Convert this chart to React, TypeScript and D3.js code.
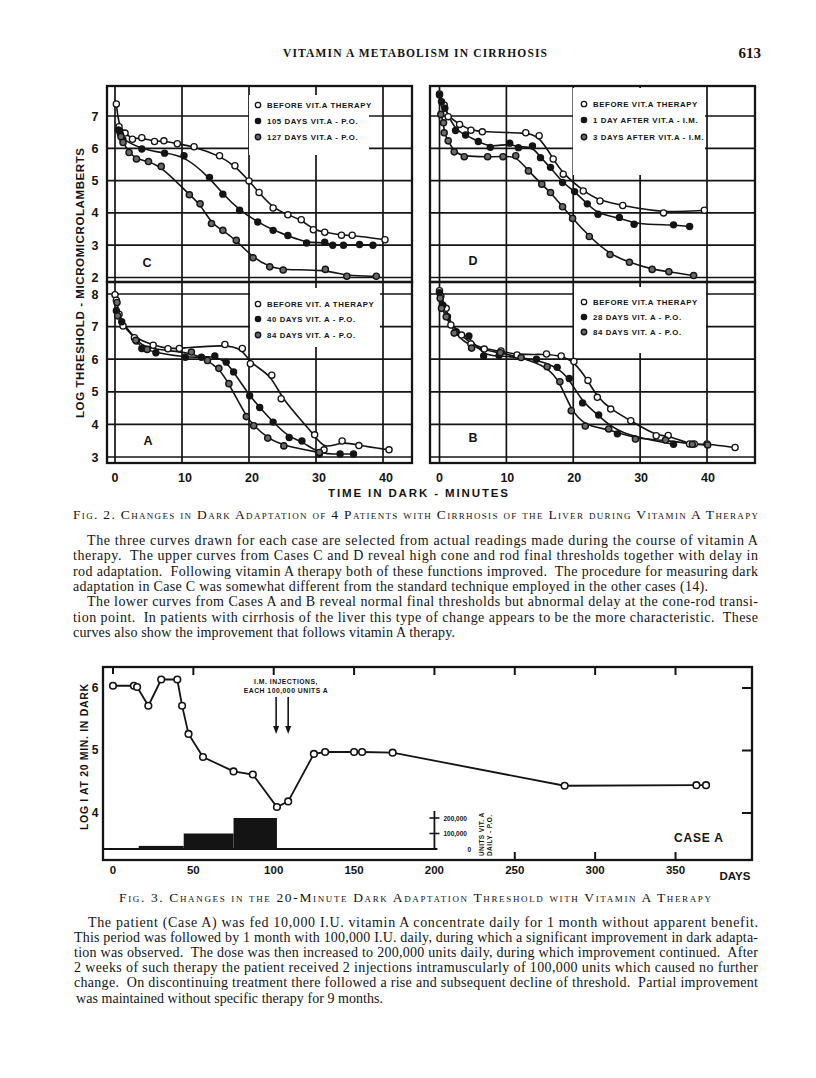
import React from "react";
import * as d3 from "d3";

// ---------- Fig. 2 : log threshold vs minutes in dark ----------
const minuteTicks = [0, 10, 20, 30, 40];
const upperLogTicks = [2, 3, 4, 5, 6, 7];
const lowerLogTicks = [3, 4, 5, 6, 7, 8];

const caseCBefore = [[0.2, 7.37], [0.6, 6.67], [1.5, 6.47], [2.6, 6.28], [4.0, 6.33], [5.9, 6.21], [7.3, 6.23], [9.3, 6.14], [11.8, 6.05], [15.6, 5.77], [17.9, 5.46], [20, 4.99], [21.5, 4.63], [23.6, 4.15], [25.8, 3.94], [27.8, 3.79], [29.6, 3.48], [31.3, 3.4], [33.8, 3.31], [35.4, 3.31], [40.3, 3.17]];
const caseC105 = [[0.5, 6.57], [0.8, 6.44], [1.2, 6.26], [4.0, 5.98], [7.4, 5.85], [10.3, 5.77], [14.1, 5.1], [16.1, 4.58], [18.6, 4.08], [21.3, 3.72], [23.6, 3.46], [25.8, 3.3], [28.6, 3.07], [31.3, 3.09], [32.5, 3.0], [34.1, 3.0], [36.5, 3.02], [38.5, 3.0]];
const caseC127 = [[0.9, 6.36], [1.2, 6.18], [2.1, 5.87], [3.2, 5.67], [5.0, 5.59], [6.9, 5.44], [11.1, 4.56], [12.7, 4.28], [14.4, 3.67], [16.1, 3.46], [18.1, 3.15], [20.6, 2.61], [23.1, 2.33], [25.1, 2.23], [31.4, 2.25], [34.6, 2.04], [39.0, 2.04]];

const caseDBefore = [[0, 7.68], [0.7, 7.34], [1.3, 6.98], [3.0, 6.74], [4.7, 6.56], [6.4, 6.51], [12.9, 6.48], [14.9, 6.39], [17.0, 5.67], [18.5, 5.2], [21.5, 4.68], [24.0, 4.37], [27.4, 4.23], [33.5, 4.0], [39.6, 4.08]];
const caseD1Day = [[0, 7.65], [0.3, 7.44], [0.8, 7.24], [2.4, 6.55], [3.9, 6.41], [5.8, 6.21], [7.6, 6.03], [10.5, 6.16], [11.8, 6.02], [13.9, 6.07], [15.1, 5.71], [16.6, 5.41], [18.4, 4.94], [20.2, 4.66], [22.1, 4.28], [23.7, 3.96], [26.9, 3.86], [29.1, 3.65], [35.0, 3.63], [37.4, 3.58]];
const caseD3Days = [[0.2, 7.05], [0.6, 6.79], [0.7, 6.48], [1.3, 6.23], [2.2, 5.89], [3.7, 5.74], [7.2, 5.74], [9.5, 5.74], [11.4, 5.77], [13.3, 5.3], [15.3, 4.89], [16.6, 4.63], [18.4, 4.19], [19.9, 3.83], [22.4, 3.27], [25.5, 2.71], [28.4, 2.47], [31.8, 2.25], [34.3, 2.18], [38.0, 2.06]];

const caseABefore = [[0, 7.98], [0.2, 7.81], [0.6, 7.38], [1.2, 7.02], [2.9, 6.66], [5.7, 6.43], [7.9, 6.32], [9.6, 6.33], [16.4, 6.45], [19.0, 6.33], [20.2, 5.86], [23.4, 5.51], [24.8, 4.79], [29.8, 3.68], [31.2, 3.22], [33.9, 3.49], [36.4, 3.35], [40.9, 3.22]];
const caseA40 = [[0.2, 7.49], [1.0, 7.15], [3.2, 6.56], [4.0, 6.33], [6.1, 6.2], [10.5, 6.06], [12.9, 6.06], [14.9, 6.1], [16.6, 5.91], [17.7, 5.61], [20.1, 4.88], [21.6, 4.52], [23.6, 4.07], [26.0, 3.6], [27.9, 3.49], [30.5, 3.09], [33.6, 3.09], [35.6, 3.09]];
const caseA84 = [[0.3, 7.74], [0.4, 7.33], [3.1, 6.58], [4.8, 6.3], [11.4, 6.22], [13.8, 5.96], [15.5, 5.72], [17.0, 5.25], [19.6, 4.24], [20.7, 3.96], [22.8, 3.58], [25.2, 3.34], [30.5, 3.14]];

const caseBBefore = [[0, 8.1], [0.2, 7.94], [1.0, 7.56], [1.7, 7.05], [3.3, 6.74], [4.7, 6.47], [6.7, 6.31], [9.2, 6.25], [11.6, 6.13], [16.0, 6.16], [18.2, 6.1], [20.1, 5.93], [22.2, 5.35], [23.6, 4.83], [25.6, 4.47], [28.6, 4.11], [32.4, 3.65], [34.2, 3.66], [37.4, 3.4], [38.1, 3.4], [40.0, 3.4], [44.2, 3.29]];
const caseB28 = [[0, 8.04], [0.5, 7.66], [1.2, 7.3], [2.5, 6.84], [4.4, 6.71], [6.6, 6.1], [8.9, 6.11], [14.5, 6.0], [17.6, 5.75], [19.4, 5.41], [21.4, 4.66], [23.8, 4.29], [26.6, 3.71], [35.0, 3.39]];
const caseB84 = [[0.1, 7.87], [0.3, 7.56], [1.0, 7.3], [2.2, 6.8], [4.8, 6.34], [9.1, 6.2], [12.2, 6.05], [16.1, 5.77], [18.0, 5.31], [19.7, 4.42], [21.8, 3.95], [25.3, 3.86], [29.3, 3.55], [33.8, 3.52], [37.8, 3.39], [40.1, 3.37]];

const legendC = ["BEFORE VIT.A THERAPY", "105 DAYS VIT.A - P.O.", "127 DAYS VIT.A - P.O."];
const legendD = ["BEFORE VIT.A THERAPY", "1 DAY AFTER VIT.A - I.M.", "3 DAYS AFTER VIT.A - I.M."];
const legendA = ["BEFORE VIT. A THERAPY", "40 DAYS VIT. A - P.O.", "84 DAYS VIT. A - P.O."];
const legendB = ["BEFORE VIT.A THERAPY", "28 DAYS VIT. A - P.O.", "84 DAYS VIT. A - P.O."];
const markerKinds = ["open", "filled", "half"];

// ---------- Fig. 3 : 20-minute threshold over days of therapy ----------
const dayTicks = [0, 50, 100, 150, 200, 250, 300, 350];
const fig3LogTicks = [4, 5, 6];
const testDays = [0, 13, 15, 22, 30, 40, 43, 47, 56, 75, 87, 102, 109, 125, 132, 150, 155, 174, 281, 363, 369];
const logAt20 = [6.02, 6.02, 6.0, 5.7, 6.12, 6.12, 5.7, 5.25, 4.88, 4.65, 4.6, 4.08, 4.17, 4.93, 4.96, 4.96, 4.96, 4.95, 4.42, 4.43, 4.43];
const doseFrom = [16, 44, 75];
const doseTo = [44, 75, 102];
const doseUnits = [20000, 100000, 200000];
const injectionDays = [101.5, 109];
const unitTicks = [0, 100000, 200000];
const unitTickLabels = ["0", "100,000", "200,000"];

// ---------- page text ----------
const fig2Para = [
  "The three curves drawn for each case are selected from actual readings made during the course of vitamin A",
  "therapy.  The upper curves from Cases C and D reveal high cone and rod final thresholds together with delay in",
  "rod adaptation.  Following vitamin A therapy both of these functions improved.  The procedure for measuring dark",
  "adaptation in Case C was somewhat different from the standard technique employed in the other cases (14).",
  "The lower curves from Cases A and B reveal normal final thresholds but abnormal delay at the cone-rod transi-",
  "tion point.  In patients with cirrhosis of the liver this type of change appears to be the more characteristic.  These",
  "curves also show the improvement that follows vitamin A therapy.",
];
const fig3Para = [
  "The patient (Case A) was fed 10,000 I.U. vitamin A concentrate daily for 1 month without apparent benefit.",
  "This period was followed by 1 month with 100,000 I.U. daily, during which a significant improvement in dark adapta-",
  "tion was observed.  The dose was then increased to 200,000 units daily, during which improvement continued.  After",
  "2 weeks of such therapy the patient received 2 injections intramuscularly of 100,000 units which caused no further",
  "change.  On discontinuing treatment there followed a rise and subsequent decline of threshold.  Partial improvement",
  "was maintained without specific therapy for 9 months.",
];

const SANS = "'Liberation Sans', Arial, sans-serif";
const SERIF = "'Liberation Serif', 'Times New Roman', serif";
const INK = "#141414";

const Marker = ({ cx, cy, kind, r = 3.1 }) => {
  if (kind === "filled") return <circle cx={cx} cy={cy} r={r + 0.6} fill={INK} />;
  if (kind === "half") return <circle cx={cx} cy={cy} r={r} fill="#6a6a6a" stroke={INK} strokeWidth={1.4} />;
  return <circle cx={cx} cy={cy} r={r} fill="#fff" stroke={INK} strokeWidth={1.3} />;
};

const Panel = ({ x, y, left, right, top, bottom, yTicks, series, legend, legendBox, legendX, legendY, letter, letterAt }) => {
  const line = d3.line().x((d) => x(d[0])).y((d) => y(d[1])).curve(d3.curveBasis);
  return (
    <g>
      {minuteTicks.map((t) => (
        <line key={"v" + t} x1={x(t)} x2={x(t)} y1={top} y2={bottom} stroke={INK} strokeWidth={1.7} />
      ))}
      {yTicks.map((v) => (
        <line key={"h" + v} x1={left} x2={right} y1={y(v)} y2={y(v)} stroke={INK} strokeWidth={1.7} />
      ))}
      <rect x={legendBox[0]} y={legendBox[1]} width={legendBox[2]} height={legendBox[3]} fill="#fff" />
      {series.map((s, i) => (
        <path key={"l" + i} d={line(s)} fill="none" stroke={INK} strokeWidth={1.6} />
      ))}
      {series.map((s, i) =>
        s.map((d, j) => <Marker key={i + "-" + j} cx={x(d[0])} cy={y(d[1])} kind={markerKinds[i]} />)
      )}
      {legend.map((txt, i) => (
        <g key={"lg" + i}>
          <Marker cx={legendX} cy={legendY[i]} kind={markerKinds[i]} r={2.7} />
          <text x={legendX + 9} y={legendY[i] + 2.9} fontFamily={SANS} fontWeight="bold" fontSize={7.8} letterSpacing={0.6} fill={INK}>
            {txt}
          </text>
        </g>
      ))}
      <text x={letterAt[0]} y={letterAt[1]} textAnchor="middle" fontFamily={SANS} fontWeight="bold" fontSize={12.5} fill={INK}>
        {letter}
      </text>
      <rect x={left} y={top} width={right - left} height={bottom - top} fill="none" stroke={INK} strokeWidth={2.3} />
    </g>
  );
};

const App = () => {
  // Fig. 2 scales
  const xLeft = d3.scaleLinear().domain([0, 40]).range([115, 383]);
  const xRight = d3.scaleLinear().domain([0, 40]).range([439.5, 707]);
  const yUpper = d3.scaleLinear().domain([2, 7]).range([277.5, 116]);
  const yLower = d3.scaleLinear().domain([3, 8]).range([457, 294]);

  // Fig. 3 scales
  const xDays = d3.scaleLinear().domain([0, 350]).range([113, 675.5]);
  const yLog = d3.scaleLinear().domain([4, 6]).range([812, 687]);
  const yUnits = d3.scaleLinear().domain([0, 200000]).range([849, 818]);
  const fig3Line = d3.line().x((d) => xDays(d[0])).y((d) => yLog(d[1]));
  const fig3Points = testDays.map((d, i) => [d, logAt20[i]]);
  const unitsX = xDays(200);

  const fig2Starts = [87, 73, 73, 73, 87, 73, 73];
  const fig2Ends = [758, 758, 758, 708, 758, 758, 455];
  const fig3Starts = [88, 74, 74, 74, 74, 76];
  const fig3Ends = [758, 758, 758, 758, 758, 383];

  return (
    <svg width={816} height={1078} style={{ position: "absolute", left: 0, top: 0, background: "#fff" }}>
      {/* running head */}
      <text x={283} y={57} textLength={264} lengthAdjust="spacing" fontFamily={SERIF} fontWeight="bold" fontSize={11.5} fill={INK}>
        VITAMIN A METABOLISM IN CIRRHOSIS
      </text>
      <text x={761} y={58} textAnchor="end" fontFamily={SERIF} fontWeight="bold" fontSize={15} fill={INK}>
        613
      </text>

      {/* Fig. 2 panels */}
      <Panel x={xLeft} y={yUpper} left={107} right={412} top={86} bottom={282} yTicks={upperLogTicks}
        series={[caseCBefore, caseC105, caseC127]} legend={legendC} legendBox={[249, 95, 120, 60]}
        legendX={258} legendY={[105, 121, 137]} letter="C" letterAt={[147, 267]} />
      <Panel x={xRight} y={yUpper} left={430} right={755} top={86} bottom={282} yTicks={upperLogTicks}
        series={[caseDBefore, caseD1Day, caseD3Days]} legend={legendD} legendBox={[573, 88, 132, 87]}
        legendX={584} legendY={[104, 120, 137]} letter="D" letterAt={[473, 265]} />
      <Panel x={xLeft} y={yLower} left={107} right={412} top={282} bottom={463} yTicks={lowerLogTicks}
        series={[caseABefore, caseA40, caseA84]} legend={legendA} legendBox={[250, 288, 130, 59]}
        legendX={258} legendY={[304, 319, 335]} letter="A" letterAt={[148, 445]} />
      <Panel x={xRight} y={yLower} left={430} right={755} top={282} bottom={463} yTicks={lowerLogTicks}
        series={[caseBBefore, caseB28, caseB84]} legend={legendB} legendBox={[574, 287, 132, 66]}
        legendX={584} legendY={[302, 317, 332]} letter="B" letterAt={[473, 442]} />

      {/* Fig. 2 axes */}
      {upperLogTicks.map((v) => (
        <text key={"yu" + v} x={95} y={yUpper(v) + 4.5} textAnchor="middle" fontFamily={SANS} fontWeight="bold" fontSize={12.5} fill={INK}>{v}</text>
      ))}
      {lowerLogTicks.map((v) => (
        <text key={"yl" + v} x={95} y={yLower(v) + 4.5} textAnchor="middle" fontFamily={SANS} fontWeight="bold" fontSize={12.5} fill={INK}>{v}</text>
      ))}
      {minuteTicks.map((t) => (
        <g key={"xt" + t}>
          <text x={xLeft(t) + (t ? 3 : 0)} y={481.5} textAnchor="middle" fontFamily={SANS} fontWeight="bold" fontSize={12.5} fill={INK}>{t}</text>
          <text x={xRight(t) + (t ? 1 : 0)} y={481.5} textAnchor="middle" fontFamily={SANS} fontWeight="bold" fontSize={12.5} fill={INK}>{t}</text>
        </g>
      ))}
      <text x={328} y={496.5} textLength={180} lengthAdjust="spacing" fontFamily={SANS} fontWeight="bold" fontSize={11.5} fill={INK}>
        TIME IN DARK - MINUTES
      </text>
      <text transform="translate(84,283) rotate(-90)" x={-135} y={0} textLength={270} lengthAdjust="spacing" fontFamily={SANS} fontWeight="bold" fontSize={11.5} fill={INK}>
        LOG THRESHOLD - MICROMICROLAMBERTS
      </text>

      {/* Fig. 2 caption and text */}
      <text x={73} y={519} textLength={685} lengthAdjust="spacing" fontFamily={SERIF} fontSize={13.5} fontVariant="small-caps" fill={INK}>
        Fig. 2.  Changes in Dark Adaptation of 4 Patients with Cirrhosis of the Liver during  Vitamin A Therapy
      </text>
      {fig2Para.map((s, i) => (
        <text key={"p2" + i} x={fig2Starts[i]} y={545 + i * 15.3} textLength={fig2Ends[i] - fig2Starts[i]} lengthAdjust="spacing"
          fontFamily={SERIF} fontSize={14} fill={INK} style={{ whiteSpace: "pre" }}>{s}</text>
      ))}

      {/* Fig. 3 */}
      <g>
        <rect x={103} y={667} width={649} height={193} fill="none" stroke={INK} strokeWidth={2.3} />
        <line x1={103} x2={unitsX + 3} y1={849} y2={849} stroke={INK} strokeWidth={1.8} />
        {dayTicks.filter((d) => d > 0).map((d) => (
          <line key={"tt" + d} x1={xDays(d)} x2={xDays(d)} y1={667} y2={675} stroke={INK} strokeWidth={2} />
        ))}
        <line x1={xDays(0)} x2={xDays(0)} y1={667} y2={674} stroke={INK} strokeWidth={2} />
        {dayTicks.filter((d) => d > 200).map((d) => (
          <line key={"bt" + d} x1={xDays(d)} x2={xDays(d)} y1={852} y2={860} stroke={INK} strokeWidth={2} />
        ))}
        {fig3LogTicks.map((v) => (
          <g key={"r" + v}>
            <line x1={742} x2={752} y1={yLog(v) + 1} y2={yLog(v) + 1} stroke={INK} strokeWidth={2} />
            <text x={95} y={yLog(v) + 4.5} textAnchor="middle" fontFamily={SANS} fontWeight="bold" fontSize={12} fill={INK}>{v}</text>
          </g>
        ))}
        {dayTicks.map((d) => (
          <text key={"xl" + d} x={xDays(d)} y={874} textAnchor="middle" fontFamily={SANS} fontWeight="bold" fontSize={11.5} fill={INK}>{d}</text>
        ))}
        <text x={735} y={879.5} textAnchor="middle" fontFamily={SANS} fontWeight="bold" fontSize={11.5} fill={INK}>DAYS</text>
        <text transform="translate(88,757) rotate(-90)" x={-73} y={0} textLength={146} lengthAdjust="spacing" fontFamily={SANS} fontWeight="bold" fontSize={10.5} fill={INK}>
          LOG I AT 20 MIN. IN DARK
        </text>

        {/* daily oral dose */}
        {doseUnits.map((u, i) => (
          <rect key={"dose" + i} x={xDays(doseFrom[i])} y={yUnits(u)} width={xDays(doseTo[i]) - xDays(doseFrom[i])} height={849 - yUnits(u)} fill={INK} />
        ))}
        <line x1={unitsX} x2={unitsX} y1={811} y2={849} stroke={INK} strokeWidth={1.8} />
        {unitTicks.map((u, i) => (
          <g key={"u" + u}>
            {u > 0 && <line x1={unitsX - 5} x2={unitsX + 5} y1={yUnits(u)} y2={yUnits(u)} stroke={INK} strokeWidth={1.6} />}
            <text x={u > 0 ? unitsX + 9 : unitsX + 33} y={yUnits(u) + 2.5} fontFamily={SANS} fontWeight="bold" fontSize={6.5} fill={INK}>{unitTickLabels[i]}</text>
          </g>
        ))}
        <text transform={`translate(${unitsX + 50},856) rotate(-90)`} fontFamily={SANS} fontWeight="bold" fontSize={6.5} letterSpacing={0.4} fill={INK}>UNITS VIT. A</text>
        <text transform={`translate(${unitsX + 58},856) rotate(-90)`} fontFamily={SANS} fontWeight="bold" fontSize={6.5} letterSpacing={0.4} fill={INK}>DAILY - P.O.</text>

        {/* injections */}
        <text x={286} y={684} textAnchor="middle" fontFamily={SANS} fontWeight="bold" fontSize={6.8} letterSpacing={0.5} fill={INK}>I.M. INJECTIONS,</text>
        <text x={286} y={693} textAnchor="middle" fontFamily={SANS} fontWeight="bold" fontSize={6.8} letterSpacing={0.5} fill={INK}>EACH  100,000  UNITS  A</text>
        {injectionDays.map((d) => (
          <g key={"inj" + d}>
            <line x1={xDays(d)} x2={xDays(d)} y1={697} y2={728} stroke={INK} strokeWidth={1.6} />
            <path d={`M${xDays(d) - 3},${726} L${xDays(d) + 3},${726} L${xDays(d)},${734} Z`} fill={INK} />
          </g>
        ))}

        <path d={fig3Line(fig3Points)} fill="none" stroke={INK} strokeWidth={1.8} />
        {fig3Points.map((d, i) => (
          <circle key={"f3" + i} cx={xDays(d[0])} cy={yLog(d[1])} r={3.3} fill="#fff" stroke={INK} strokeWidth={1.6} />
        ))}
        <text x={674} y={842} fontFamily={SANS} fontWeight="bold" fontSize={12} letterSpacing={0.8} fill={INK}>CASE A</text>
      </g>

      {/* Fig. 3 caption and text */}
      <text x={119} y={902} textLength={592} lengthAdjust="spacing" fontFamily={SERIF} fontSize={13.5} fontVariant="small-caps" fill={INK}>
        Fig. 3.  Changes in the 20-Minute Dark Adaptation Threshold with Vitamin A Therapy
      </text>
      {fig3Para.map((s, i) => (
        <text key={"p3" + i} x={fig3Starts[i]} y={927 + i * 15.1} textLength={fig3Ends[i] - fig3Starts[i]} lengthAdjust="spacing"
          fontFamily={SERIF} fontSize={14} fill={INK} style={{ whiteSpace: "pre" }}>{s}</text>
      ))}
    </svg>
  );
};

export default App;
